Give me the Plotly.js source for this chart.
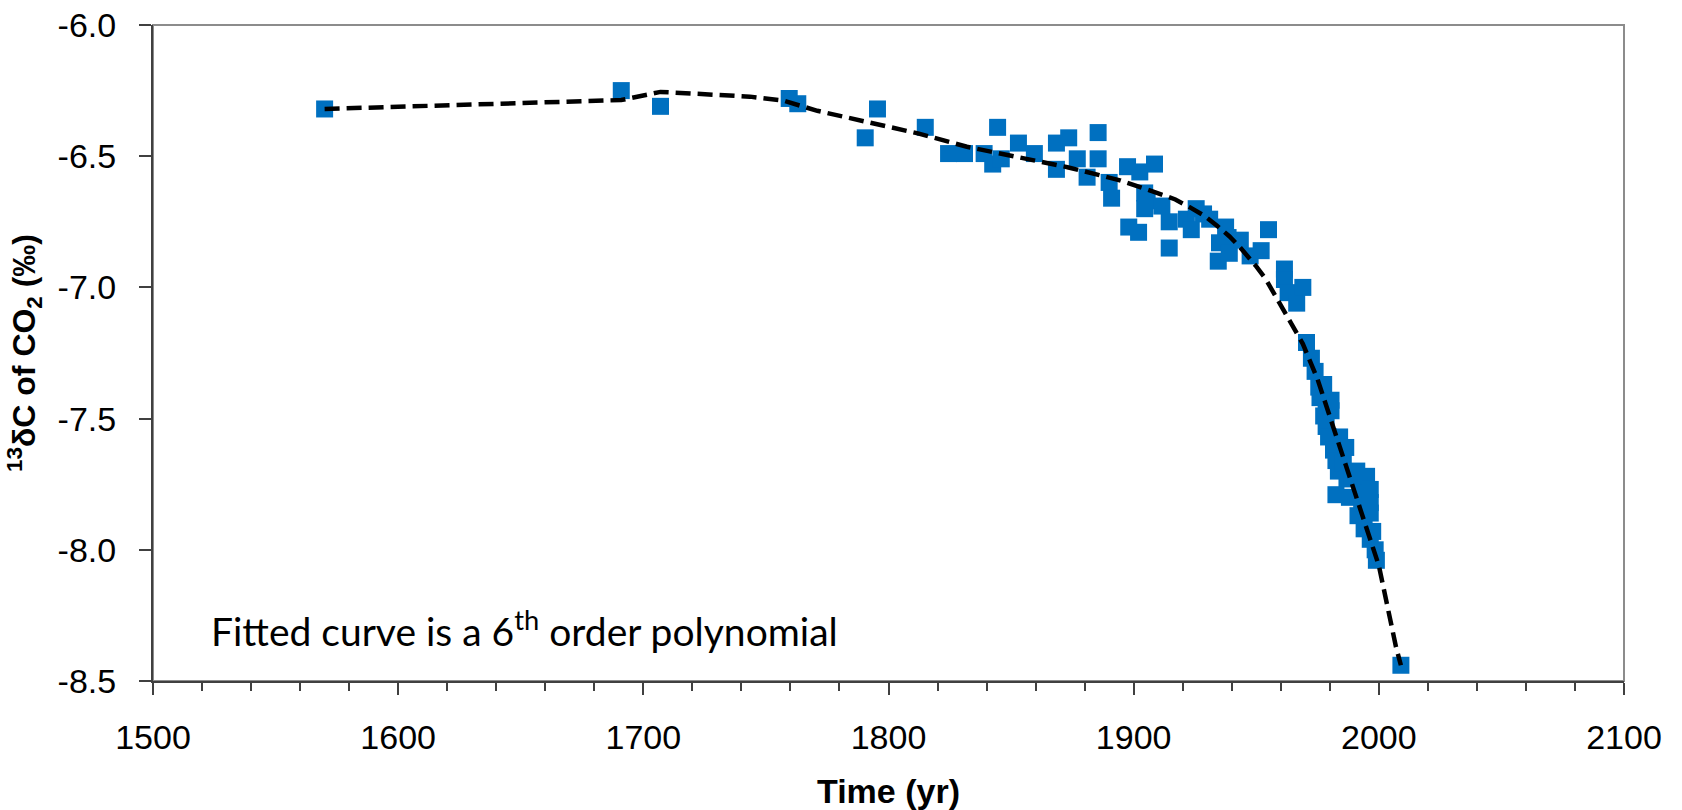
<!DOCTYPE html>
<html>
<head>
<meta charset="utf-8">
<script src="https://cdn.plot.ly/plotly-3.0.1.min.js"></script>
<style>html,body{margin:0;padding:0;background:#fff;}#chart{width:1682px;height:810px;}</style>
</head>
<body>
<div id="chart"></div>
<script>
// Measured data points (year, δ13C of CO2 in ‰)
const years = [
  1570, 1691, 1707, 1759.5, 1763, 1790.5, 1795.5, 1815, 1824.5, 1831,
  1839, 1844.5, 1842.5, 1846, 1853, 1859.5, 1868.5, 1868.5, 1873.5, 1877,
  1881, 1885.5, 1885.5, 1890, 1891, 1897.5, 1898, 1902.5, 1902, 1904.5,
  1904.5, 1905.5, 1908.5, 1911.5, 1914.5, 1914.5, 1921.5, 1923.5, 1925.5, 1928.5,
  1931, 1934.5, 1935, 1937.5, 1938.5, 1939, 1943.5, 1947.5, 1952, 1955,
  1961.5, 1961.5, 1963, 1966.5, 1969, 1970.5, 1972.5, 1974, 1975.5, 1976,
  1977.5, 1977.5, 1978.5, 1978.5, 1979.5, 1980.5, 1980.5, 1981.5, 1982.5, 1982.5,
  1983.5, 1984, 1985.5, 1986.5, 1987, 1988, 1989, 1991, 1991.5, 1992.5,
  1993, 1994, 1995, 1995, 1996.5, 1996.5, 1996.5, 1996.5, 1997.5, 1998.5,
  1999, 2009
];
const d13C = [
  -6.32, -6.25, -6.31, -6.28, -6.30, -6.43, -6.32, -6.39, -6.49, -6.49,
  -6.49, -6.39, -6.53, -6.51, -6.45, -6.49, -6.45, -6.55, -6.43, -6.51,
  -6.58, -6.41, -6.51, -6.60, -6.66, -6.54, -6.77, -6.56, -6.79, -6.64,
  -6.70, -6.67, -6.53, -6.69, -6.75, -6.85, -6.74, -6.78, -6.70, -6.72,
  -6.74, -6.90, -6.83, -6.77, -6.81, -6.87, -6.82, -6.88, -6.86, -6.78,
  -6.93, -6.97, -7.02, -7.06, -7.00, -7.21, -7.27, -7.32, -7.38, -7.42,
  -7.37, -7.49, -7.45, -7.53, -7.57, -7.43, -7.47, -7.62, -7.66, -7.79,
  -7.70, -7.57, -7.67, -7.61, -7.73, -7.80, -7.72, -7.70, -7.87, -7.77,
  -7.82, -7.92, -7.72, -7.85, -7.77, -7.82, -7.86, -7.96, -7.93, -8.00,
  -8.04, -8.44
];
// Fitted curve (6th order polynomial)
const fitYears = [
  1570, 1691, 1707, 1743.5, 1757, 1771, 1791, 1812, 1832, 1852,
  1873, 1886, 1894, 1908, 1917, 1923, 1929, 1934, 1939, 1943, 1947, 1950,
  1954, 1957, 1961, 1964, 1969, 1975, 1980, 1985, 1990, 1995, 2000, 2007, 2009
];
const fitValues = [
  -6.32, -6.286, -6.255, -6.273, -6.288, -6.327, -6.369, -6.413, -6.464, -6.502,
  -6.542, -6.572, -6.591, -6.635, -6.665, -6.695, -6.728, -6.765, -6.805, -6.843,
  -6.885, -6.92, -6.97, -7.02, -7.085, -7.13, -7.215, -7.35, -7.49, -7.63, -7.77,
  -7.91, -8.06, -8.37, -8.44
];
const xTicks = [1500, 1600, 1700, 1800, 1900, 2000, 2100];
const yTicks = [-8.5, -8.0, -7.5, -7.0, -6.5, -6.0];

const AX = '#404040';
const FAM = '"Liberation Sans", Arial, sans-serif';

const traces = [
  {
    x: years, y: d13C, type: 'scatter', mode: 'markers',
    marker: {symbol: 'square', size: 17, color: '#0070C0'},
    showlegend: false, cliponaxis: false
  },
  {
    x: fitYears, y: fitValues, type: 'scatter', mode: 'lines',
    line: {color: '#000', width: 4.5, dash: '15px,7px'},
    showlegend: false
  }
];

const layout = {
  width: 1682, height: 810,
  margin: {l: 153, r: 58, t: 25, b: 129},
  paper_bgcolor: '#fff', plot_bgcolor: '#fff',
  font: {family: FAM, size: 34, color: '#000'},
  xaxis: {
    range: [1500, 2100], tickvals: xTicks, ticktext: xTicks.map(String),
    showgrid: false, zeroline: false,
    showline: true, linecolor: AX, linewidth: 2,
    ticks: 'outside', ticklen: 12, tickwidth: 2, tickcolor: AX,
    minor: {dtick: 20, ticks: 'outside', ticklen: 8, tickwidth: 2, tickcolor: AX},
    ticklabelstandoff: 13,
    tickfont: {size: 34, family: FAM, color: '#000'},
    title: {text: 'Time (yr)', font: {size: 34, family: FAM, color: '#000', weight: 'bold'}, standoff: 28},
    automargin: false
  },
  yaxis: {
    range: [-8.5, -6.0], tickvals: yTicks, ticktext: yTicks.map(v => v.toFixed(1)),
    showgrid: false, zeroline: false,
    showline: true, linecolor: AX, linewidth: 2,
    ticks: 'outside', ticklen: 12, tickwidth: 2, tickcolor: AX,
    ticklabelstandoff: 16,
    tickfont: {size: 34, family: FAM, color: '#000'},
    title: {text: '<sup>13</sup>δC of CO<sub>2</sub> (‰)', font: {size: 32, family: FAM, color: '#000', weight: 'bold'}, standoff: 12},
    automargin: false
  },
  shapes: [
    {type: 'rect', xref: 'paper', yref: 'paper', x0: 0, x1: 1, y0: 0, y1: 1,
     line: {color: '#8c8c8c', width: 2}, layer: 'below'}
  ],
  annotations: [
    {x: 1523, y: -8.30, xref: 'x', yref: 'y', xanchor: 'left', yanchor: 'middle',
     showarrow: false,
     text: 'Fitted curve is a 6<sup>th</sup> order polynomial',
     font: {family: 'Lato, "Open Sans", sans-serif', size: 39, color: '#000'}}
  ]
};

Plotly.newPlot('chart', traces, layout, {displayModeBar: false, staticPlot: true});
</script>
</body>
</html>
